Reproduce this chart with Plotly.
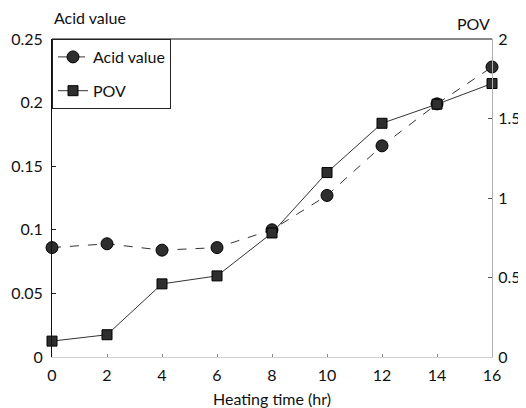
import plotly.graph_objects as go

heating_time = [0, 2, 4, 6, 8, 10, 12, 14, 16]
acid_value = [0.086, 0.089, 0.084, 0.086, 0.100, 0.127, 0.166, 0.199, 0.228]
pov = [0.10, 0.14, 0.46, 0.51, 0.78, 1.16, 1.47, 1.59, 1.72]

acid_ticks = [0, 0.05, 0.1, 0.15, 0.2, 0.25]
acid_ticktext = ["0", "0.05", "0.1", "0.15", "0.2", "0.25"]
pov_ticks = [0, 0.5, 1, 1.5, 2]
pov_ticktext = ["0", "0.5", "1", "1.5", "2"]
x_ticks = [0, 2, 4, 6, 8, 10, 12, 14, 16]

FONT = "Lato"
FS = 16

fig = go.Figure()
fig.add_trace(go.Scatter(
    x=heating_time, y=acid_value, name="Acid value", mode="lines+markers",
    line=dict(color="#333333", width=1, dash="dash"),
    marker=dict(symbol="circle", size=12, color="#2e2e2e", line=dict(color="#000000", width=1)),
    cliponaxis=False, legendgroup="a", yaxis="y"))
fig.add_trace(go.Scatter(
    x=heating_time, y=pov, name="POV", mode="lines+markers",
    line=dict(color="#333333", width=1),
    marker=dict(symbol="square", size=10, color="#2e2e2e", line=dict(color="#000000", width=1)),
    cliponaxis=False, legendgroup="b", yaxis="y2"))

# page has an 8px body margin, so the figure is sized/positioned to compensate
fig.update_layout(
    width=518, height=400,
    margin=dict(l=44, r=34, t=31, b=51, autoexpand=False),
    paper_bgcolor="white", plot_bgcolor="white",
    font=dict(family=FONT, size=FS, color="#111111"),
    showlegend=True,
    legend=dict(x=0, y=1, xanchor="left", yanchor="top", bgcolor="white",
                bordercolor="#222222", borderwidth=1, tracegroupgap=10,
                font=dict(family=FONT, size=FS), itemwidth=30),
    xaxis=dict(range=[0, 16], tickvals=x_ticks, ticks="inside", ticklen=3,
               tickcolor="#888888", showline=True, linecolor="#d0d0d0", linewidth=1,
               showgrid=False, zeroline=False, ticklabelstandoff=4, automargin=False),
    yaxis=dict(range=[0, 0.25], tickvals=acid_ticks, ticktext=acid_ticktext,
               ticks="inside", ticklen=4, tickcolor="#222222",
               showline=True, linecolor="#111111", linewidth=1,
               showgrid=False, zeroline=False, ticklabelstandoff=5, automargin=False),
    yaxis2=dict(range=[0, 2], tickvals=pov_ticks, ticktext=pov_ticktext,
                overlaying="y", side="right", ticks="inside", ticklen=4,
                tickcolor="#555555", showline=True, linecolor="#b0b0b0", linewidth=1,
                showgrid=False, zeroline=False, ticklabelstandoff=2, automargin=False),
    shapes=[dict(type="line", xref="paper", yref="paper", x0=0, x1=1, y0=1, y1=1,
                 line=dict(color="#111111", width=1))],
    annotations=[
        dict(text="Acid value", xref="paper", yref="paper", x=0, y=1, xanchor="left",
             yanchor="middle", yshift=22, showarrow=False, font=dict(size=FS)),
        dict(text="POV", xref="paper", yref="paper", x=1, y=1, xanchor="right",
             yanchor="middle", yshift=16, showarrow=False, font=dict(size=FS)),
        dict(text="Heating time (hr)", xref="paper", yref="paper", x=0.5, y=0,
             xanchor="center", yanchor="middle", yshift=-41, showarrow=False,
             font=dict(size=FS)),
    ],
)

fig.write_html("out.html")
